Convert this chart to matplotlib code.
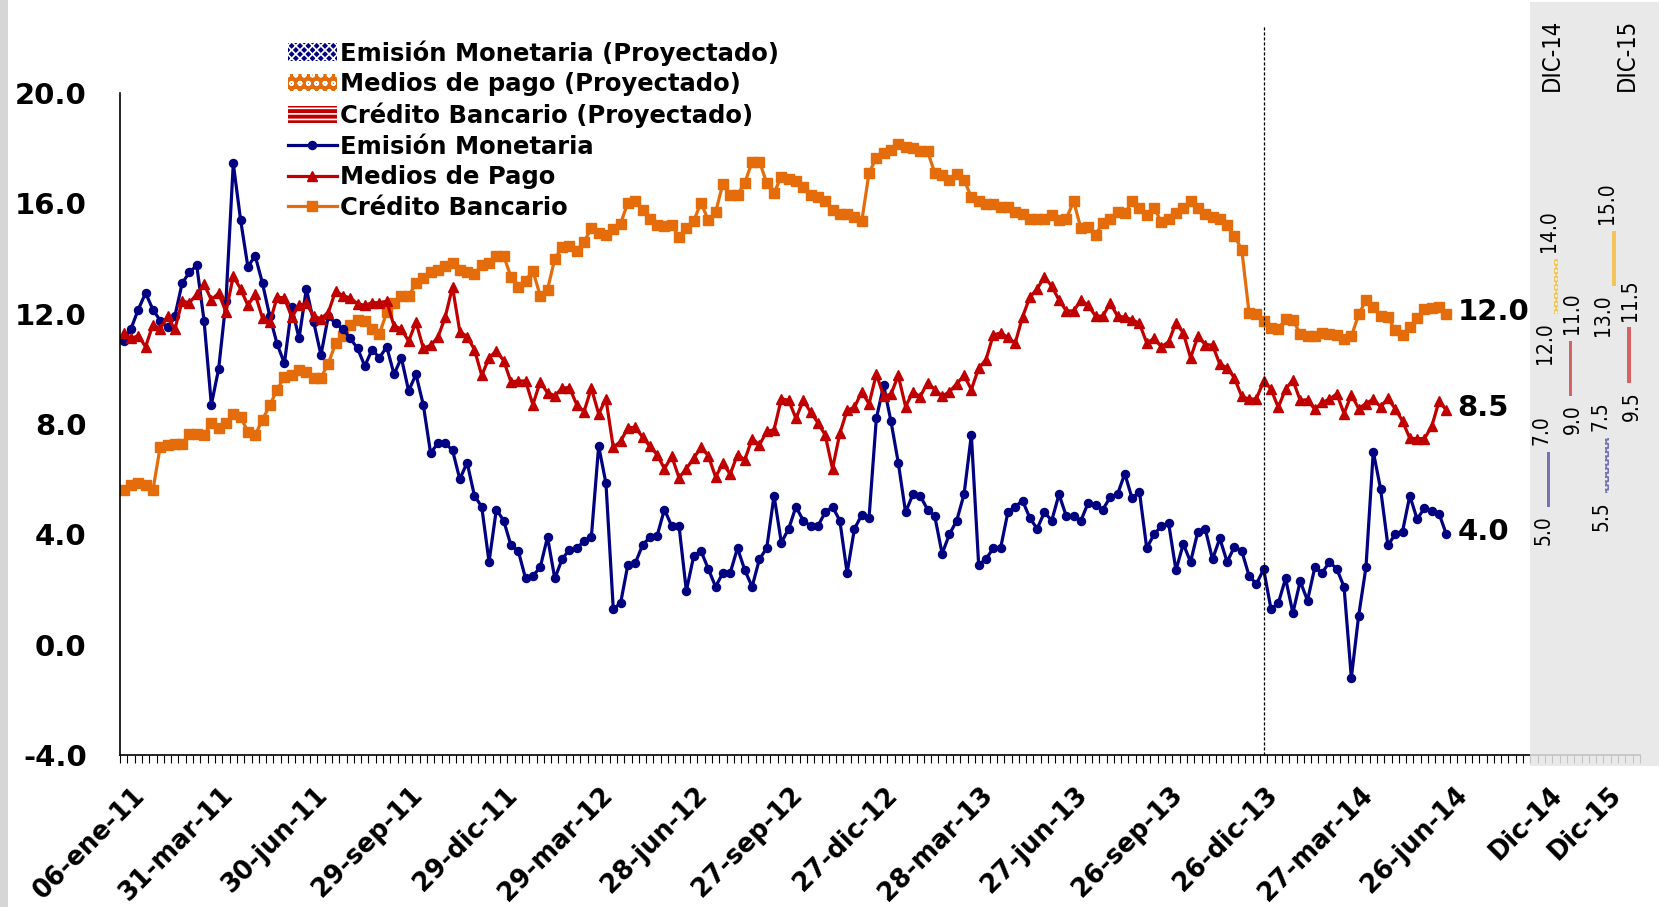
import numpy as np
import matplotlib
import matplotlib.pyplot as plt
from matplotlib.patches import Patch, Rectangle

matplotlib.use("Agg")

# Variación anual semanal (%), desde 06-ene-11 hasta 26-jun-14
emision = [
    11.0, 11.45, 12.15, 12.75, 12.15, 11.75, 11.5, 11.9, 13.1, 13.5,
    13.75, 11.75, 8.7, 10.0, 12.45, 17.45, 15.4, 13.7, 14.1, 13.1,
    11.9, 10.9, 10.2, 12.25, 11.1, 12.9, 11.7, 10.5, 11.9, 11.65,
    11.45, 11.1, 10.75, 10.1, 10.7, 10.4, 10.8, 9.8, 10.4, 9.2,
    9.8, 8.7, 6.95, 7.3, 7.3, 7.05, 6.0, 6.6, 5.4, 5.0,
    3.0, 4.9, 4.5, 3.6, 3.4, 2.4, 2.5, 2.8, 3.9, 2.4,
    3.1, 3.45, 3.5, 3.75, 3.9, 7.2, 5.85, 1.3, 1.5, 2.9,
    2.95, 3.6, 3.9, 3.95, 4.9, 4.3, 4.3, 1.95, 3.2, 3.4,
    2.75, 2.1, 2.6, 2.6, 3.5, 2.7, 2.1, 3.1, 3.5, 5.4,
    3.7, 4.2, 5.0, 4.5, 4.3, 4.3, 4.8, 5.0, 4.5, 2.6,
    4.2, 4.7, 4.6, 8.2, 9.4, 8.1, 6.6, 4.8, 5.45, 5.4,
    4.9, 4.65, 3.3, 4.0, 4.5, 5.45, 7.6, 2.9, 3.1, 3.5,
    3.5, 4.8, 5.0, 5.22, 4.6, 4.2, 4.8, 4.5, 5.45, 4.65,
    4.65, 4.5, 5.15, 5.05, 4.9, 5.35, 5.45, 6.2, 5.3, 5.55,
    3.5, 4.0, 4.3, 4.4, 2.7, 3.65, 3.0, 4.1, 4.2, 3.1,
    3.85, 3.0, 3.55, 3.4, 2.5, 2.2, 2.73, 1.3, 1.5, 2.4,
    1.15, 2.3, 1.6, 2.8, 2.6, 3.0, 2.75, 2.1, -1.2, 1.05,
    2.8, 7.0, 5.65, 3.6, 4.0, 4.1, 5.4, 4.55, 4.95, 4.85,
    4.75, 4.0,
]
medios = [
    11.3, 11.1, 11.2, 10.8, 11.6, 11.45, 11.9, 11.43, 12.45, 12.4,
    12.7, 13.07, 12.5, 12.74, 12.06, 13.36, 12.9, 12.3, 12.7, 11.84,
    11.68, 12.6, 12.57, 11.87, 12.3, 12.38, 11.9, 11.82, 12.04, 12.82,
    12.65, 12.57, 12.36, 12.3, 12.4, 12.4, 12.45, 11.55, 11.45, 11.0,
    11.7, 10.75, 10.85, 11.14, 11.87, 12.97, 11.35, 11.17, 10.7, 9.76,
    10.4, 10.65, 10.3, 9.53, 9.56, 9.56, 8.7, 9.53, 9.13, 9.03,
    9.3, 9.32, 8.7, 8.45, 9.3, 8.37, 8.91, 7.15, 7.37, 7.86,
    7.88, 7.53, 7.19, 6.89, 6.38, 6.83, 6.05, 6.38, 6.76, 7.15,
    6.85, 6.08, 6.57, 6.18, 6.89, 6.7, 7.47, 7.24, 7.73, 7.79,
    8.91, 8.86, 8.2, 8.86, 8.43, 8.05, 7.6, 6.38, 7.66, 8.5,
    8.6, 9.17, 8.73, 9.81, 9.01, 9.08, 9.76, 8.63, 9.17, 8.99,
    9.5, 9.25, 9.01, 9.17, 9.46, 9.76, 9.25, 10.02, 10.33, 11.23,
    11.3, 11.14, 10.93, 11.88, 12.59, 12.9, 13.33, 13.0, 12.49, 12.1,
    12.1, 12.49, 12.3, 11.91, 11.91, 12.39, 11.91, 11.87, 11.78, 11.65,
    10.94, 11.1, 10.8, 10.98, 11.67, 11.3, 10.4, 11.18, 10.88, 10.86,
    10.17, 10.04, 9.67, 9.0, 8.9, 8.91, 9.56, 9.27, 8.6, 9.27,
    9.59, 8.86, 8.88, 8.53, 8.78, 8.9, 9.09, 8.38, 9.06, 8.56,
    8.74, 8.9, 8.62, 8.93, 8.55, 8.11, 7.48, 7.47, 7.47, 7.91,
    8.83, 8.5,
]
credito = [
    5.6, 5.8, 5.85, 5.8, 5.6, 7.17, 7.23, 7.29, 7.29, 7.63,
    7.63, 7.6, 8.02, 7.84, 8.02, 8.38, 8.26, 7.72, 7.6, 8.16,
    8.68, 9.25, 9.71, 9.77, 9.97, 9.89, 9.68, 9.68, 10.19, 10.92,
    11.2, 11.6, 11.76, 11.74, 11.46, 11.27, 12.05, 12.4, 12.64, 12.64,
    13.1, 13.3, 13.5, 13.6, 13.72, 13.82, 13.57, 13.5, 13.44, 13.78,
    13.82, 14.08, 14.1, 13.33, 12.98, 13.2, 13.56, 12.65, 12.87, 14.0,
    14.4, 14.45, 14.29, 14.61, 15.09, 14.91, 14.87, 15.06, 15.26, 16.03,
    16.09, 15.77, 15.42, 15.22, 15.17, 15.22, 14.78, 15.09, 15.35, 16.03,
    15.38, 15.68, 16.71, 16.29, 16.32, 16.74, 17.51, 17.51, 16.74, 16.38,
    16.97, 16.89, 16.8, 16.61, 16.32, 16.22, 16.09, 15.77, 15.6, 15.6,
    15.5, 15.35, 17.1, 17.66, 17.83, 17.92, 18.15, 18.05, 18.0, 17.89,
    17.89, 17.1, 17.02, 16.86, 17.06, 16.86, 16.22, 16.07, 15.99, 15.96,
    15.86, 15.86, 15.7, 15.6, 15.45, 15.45, 15.45, 15.58, 15.4, 15.45,
    16.07, 15.09, 15.13, 14.87, 15.29, 15.45, 15.68, 15.64, 16.07, 15.84,
    15.58, 15.84, 15.32, 15.45, 15.64, 15.84, 16.07, 15.84, 15.61, 15.51,
    15.45, 15.22, 14.83, 14.32, 12.04, 12.0, 11.72, 11.49, 11.43, 11.82,
    11.78, 11.27, 11.2, 11.2, 11.31, 11.27, 11.23, 11.07, 11.18, 11.97,
    12.49, 12.23, 11.91, 11.87, 11.4, 11.23, 11.52, 11.85, 12.17, 12.21,
    12.23, 12.0,
]

# etiquetas del eje de fechas (semana desde 06-ene-11)
fechas_idx = [0, 12, 25, 38, 51, 64, 77, 90, 103, 116, 129, 142, 155, 168, 181]
fechas_lbl = ["06-ene-11", "31-mar-11", "30-jun-11", "29-sep-11", "29-dic-11",
              "29-mar-12", "28-jun-12", "27-sep-12", "27-dic-12", "28-mar-13",
              "27-jun-13", "26-sep-13", "26-dic-13", "27-mar-14", "26-jun-14"]
corte = 156  # inicio del periodo reciente

# rangos proyectados (min, max)
proy_lbl = ["Dic-14", "Dic-15"]
proy_titulo = ["DIC-14", "DIC-15"]
proy_emision = [(5.0, 7.0), (5.5, 7.5)]
proy_medios = [(9.0, 11.0), (9.5, 11.5)]
proy_credito = [(12.0, 14.0), (13.0, 15.0)]

AZUL = "#000080"
ROJO = "#C00000"
NARANJA = "#E46C0A"
NARROW = ["Liberation Sans Narrow", "DejaVu Sans"]

plt.rcParams["font.family"] = ["DejaVu Sans"]
plt.rcParams["hatch.color"] = "white"
plt.rcParams["hatch.linewidth"] = 1.2

W, H = 1659, 907
fig = plt.figure(figsize=(W / 100, H / 100), dpi=100)
ax = fig.add_axes([120 / W, 152 / H, 1520 / W, 662 / H])

# borde gris a la izquierda
fig.add_artist(Rectangle((0, 0), 8 / W, 1, transform=fig.transFigure,
                         color="#D6D6D6", lw=0, zorder=0))

x = np.arange(len(emision))
l_cred, = ax.plot(x, credito, color=NARANJA, lw=2.3, marker="s", ms=7.5,
                  mec=NARANJA, label="Crédito Bancario", zorder=2.1)
l_emi, = ax.plot(x, emision, color=AZUL, lw=2.3, marker="o", ms=5.8,
                 mec=AZUL, label="Emisión Monetaria", zorder=2.2)
l_med, = ax.plot(x, medios, color=ROJO, lw=2.3, marker="^", ms=7,
                 mec=ROJO, label="Medios de Pago", zorder=2.3)

ax.set_xlim(-0.5, 207.5)
ax.set_ylim(-4, 20)
for s in ["top", "right"]:
    ax.spines[s].set_visible(False)
ax.spines["left"].set_linewidth(1.2)
ax.spines["bottom"].set_linewidth(1.2)

ax.set_yticks(np.arange(-4, 21, 4))
ax.set_yticklabels([f"{v:.1f}" for v in np.arange(-4, 21, 4)])
ax.tick_params(axis="y", length=0, pad=24, labelsize=21)
for t in ax.get_yticklabels():
    t.set_fontweight("bold")

ax.set_xticks([])
ax.set_xticks(np.arange(-0.5, 208, 1), minor=True)
ax.tick_params(axis="x", which="minor", length=5.8, width=0.8, direction="out")

for pos, lab in zip(fechas_idx + [194, 202], fechas_lbl + proy_lbl):
    ax.annotate(lab, xy=(pos, 0), xycoords=("data", "axes fraction"),
                xytext=(6, -19.5), textcoords="offset points", rotation=45,
                rotation_mode="anchor", ha="right", va="top", fontsize=18.5,
                fontweight="bold", annotation_clip=False)

# linea de corte
ax.plot([corte, corte], [-4, 22.45], color="black", lw=0.9,
        ls=(0, (2.5, 1.5)), clip_on=False, zorder=2.5)

# valores finales
for serie in [credito, medios, emision]:
    ax.annotate(f"{serie[-1]:.1f}", xy=(x[-1], serie[-1]), xytext=(8, 1.5),
                textcoords="offset points", ha="left", va="center",
                fontsize=21, fontweight="bold")

# zona de proyecciones
ax.axvspan(192.5, 210.5, ymin=-0.017, ymax=1.137, color="#E6E6E6", alpha=0.85,
           lw=0, clip_on=False, zorder=3)

bases = [195, 203]
for g in range(2):
    # (posicion, rango, color, trama, ancho, desplazamiento etiquetas inf/sup)
    barras = [
        (bases[g], proy_emision[g], "#7474B0", "...." if g == 1 else None, 0.45, (-4, -5)),
        (bases[g] + 1, proy_credito[g], "#F2C45A", "...." if g == 0 else None, 0.55, (-8, -5)),
        (bases[g] + 3, proy_medios[g], "#D46464", None, 0.45, (2, 1)),
    ]
    for bx, (lo, hi), col, hatch, bw, (dx_lo, dx_hi) in barras:
        ax.bar(bx, hi - lo, bottom=lo, width=bw, color=col, hatch=hatch,
               lw=0, zorder=4, clip_on=False)
        ax.annotate(f"{lo:.1f}", xy=(bx, lo), xytext=(dx_lo, -6),
                    textcoords="offset points", rotation=90, ha="center",
                    va="top", fontsize=15, family=NARROW, fontstretch="condensed",
                    zorder=5)
        ax.annotate(f"{hi:.1f}", xy=(bx, hi), xytext=(dx_hi, 5),
                    textcoords="offset points", rotation=90, ha="center",
                    va="bottom", fontsize=15, family=NARROW, fontstretch="condensed",
                    zorder=5)
    ax.text(bases[g] + 0.4 + 2.3 * g, 22.7, proy_titulo[g], rotation=90,
            ha="center", va="top", fontsize=17, family=NARROW,
            fontstretch="condensed", zorder=5)

handles = [
    Patch(facecolor=AZUL, hatch="xxxx", label="Emisión Monetaria (Proyectado)"),
    Patch(facecolor=NARANJA, hatch="oo", label="Medios de pago (Proyectado)"),
    Patch(facecolor=ROJO, hatch="---", label="Crédito Bancario (Proyectado)"),
    l_emi, l_med, l_cred,
]
leg = ax.legend(handles=handles, loc="upper left",
                bbox_to_anchor=(288 / W, 1 - 40 / H), bbox_transform=fig.transFigure,
                frameon=False, prop={"weight": "bold", "size": 17.5},
                handlelength=2.0, handletextpad=0.15, labelspacing=0.27,
                borderpad=0, borderaxespad=0)
leg.set_zorder(6)

fig.savefig("out.png", dpi=100)
